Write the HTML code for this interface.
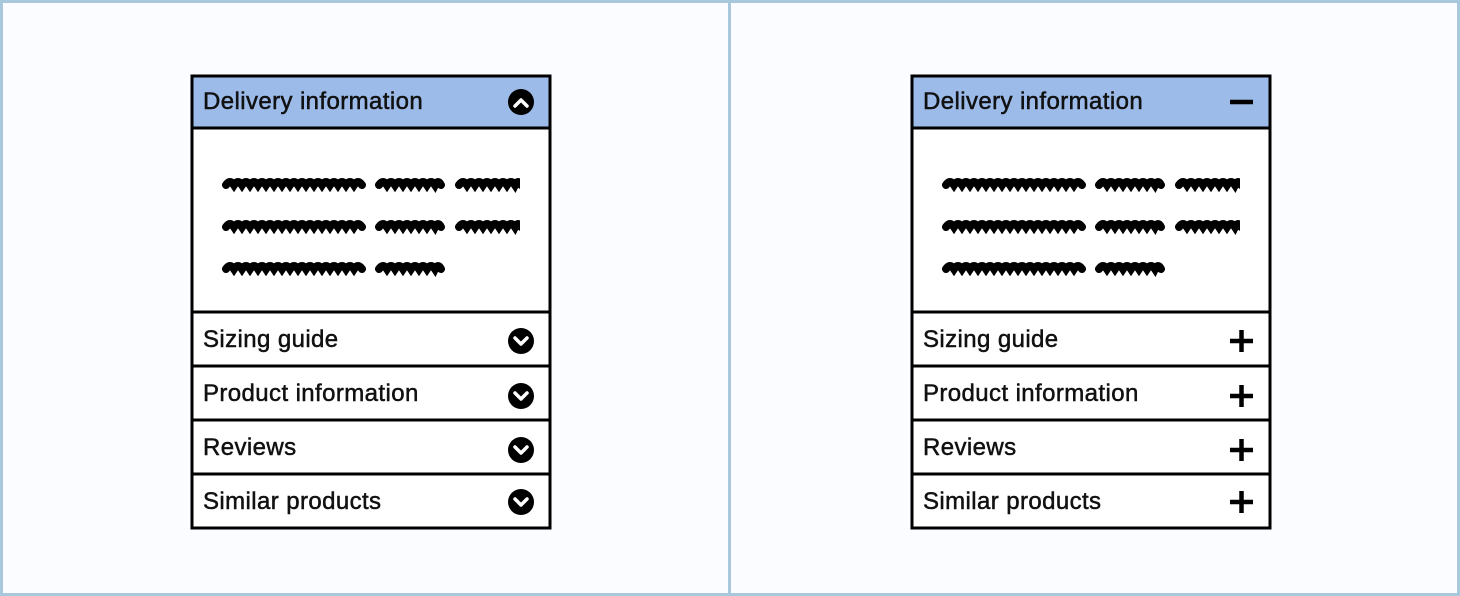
<!DOCTYPE html>
<html><head><style>
body{margin:0;background:#fbfcff;}
svg{display:block}
text{font-family:"Liberation Sans",sans-serif;font-size:24px;letter-spacing:0.4px;fill:#111;stroke:#111;stroke-width:0.5}
</style></head><body>
<svg width="1460" height="596" viewBox="0 0 1460 596">
<defs>
<path id="w1" d="M0 0 q4 -6 8 0 q4 -6 8 0 q4 -6 8 0 q4 -6 8 0 q4 -6 8 0 q4 -6 8 0 q4 -6 8 0 q4 -6 8 0 q4 -6 8 0 q4 -6 8 0 q4 -6 8 0 q4 -6 8 0 q4 -6 8 0 q4 -6 8 0 q4 -6 8 0 q4 -6 8 0 q4 -6 8 0" fill="none" stroke="#000" stroke-width="8" stroke-linecap="round"/>
<path id="w2" d="M0 0 q4 -6 8 0 q4 -6 8 0 q4 -6 8 0 q4 -6 8 0 q4 -6 8 0 q4 -6 8 0 q4 -6 8 0 q3 -6 6 0" fill="none" stroke="#000" stroke-width="8" stroke-linecap="round"/>
<g id="panel">
<rect x="192" y="76" width="358" height="452" fill="#fff" stroke="#000" stroke-width="3"/>
<rect x="192" y="76" width="358" height="52" fill="#9dbbe9" stroke="#000" stroke-width="3"/>
<line x1="192" y1="312" x2="550" y2="312" stroke="#000" stroke-width="3"/>
<line x1="192" y1="366" x2="550" y2="366" stroke="#000" stroke-width="3"/>
<line x1="192" y1="420" x2="550" y2="420" stroke="#000" stroke-width="3"/>
<line x1="192" y1="474" x2="550" y2="474" stroke="#000" stroke-width="3"/>
<text x="203" y="109">Delivery information</text>
<text x="203" y="347">Sizing guide</text>
<text x="203" y="401">Product information</text>
<text x="203" y="455">Reviews</text>
<text x="203" y="509">Similar products</text>
<g clip-path="url(#c)">
<use href="#w1" transform="translate(226,185)"/>
<use href="#w2" transform="translate(379,185)"/>
<use href="#w2" transform="translate(459,185)"/>
<use href="#w1" transform="translate(226,227)"/>
<use href="#w2" transform="translate(379,227)"/>
<use href="#w2" transform="translate(459,227)"/>
<use href="#w1" transform="translate(226,269)"/>
<use href="#w2" transform="translate(379,269)"/>
</g>
</g>
<clipPath id="c"><rect x="215" y="160" width="305" height="130"/></clipPath>
</defs>
<rect x="1.5" y="1.5" width="1457" height="593" fill="#fbfcff" stroke="#a8c8dc" stroke-width="3"/>
<line x1="729.5" y1="0" x2="729.5" y2="596" stroke="#a8c8dc" stroke-width="3"/>
<use href="#panel"/>
<use href="#panel" transform="translate(720,0)"/>
<circle cx="521" cy="102" r="13" fill="#000"/>
<path d="M515 106 l6 -6 l6 6" fill="none" stroke="#fff" stroke-width="3.5" stroke-linecap="round" stroke-linejoin="round"/>
<g fill="#000"><circle cx="521" cy="341" r="13"/><circle cx="521" cy="396" r="13"/><circle cx="521" cy="450" r="13"/><circle cx="521" cy="502" r="13"/></g>
<g fill="none" stroke="#fff" stroke-width="3.5" stroke-linecap="round" stroke-linejoin="round">
<path d="M515 338 l6 6 l6 -6"/><path d="M515 393 l6 6 l6 -6"/><path d="M515 447 l6 6 l6 -6"/><path d="M515 499 l6 6 l6 -6"/>
</g>
<g stroke="#000" stroke-width="4.5">
<line x1="1230" y1="102" x2="1253" y2="102"/>
<line x1="1230" y1="341" x2="1253" y2="341"/><line x1="1241.5" y1="330" x2="1241.5" y2="352"/>
<line x1="1230" y1="396" x2="1253" y2="396"/><line x1="1241.5" y1="385" x2="1241.5" y2="407"/>
<line x1="1230" y1="450" x2="1253" y2="450"/><line x1="1241.5" y1="439" x2="1241.5" y2="461"/>
<line x1="1230" y1="502" x2="1253" y2="502"/><line x1="1241.5" y1="491" x2="1241.5" y2="513"/>
</g>
</svg>
</body></html>
